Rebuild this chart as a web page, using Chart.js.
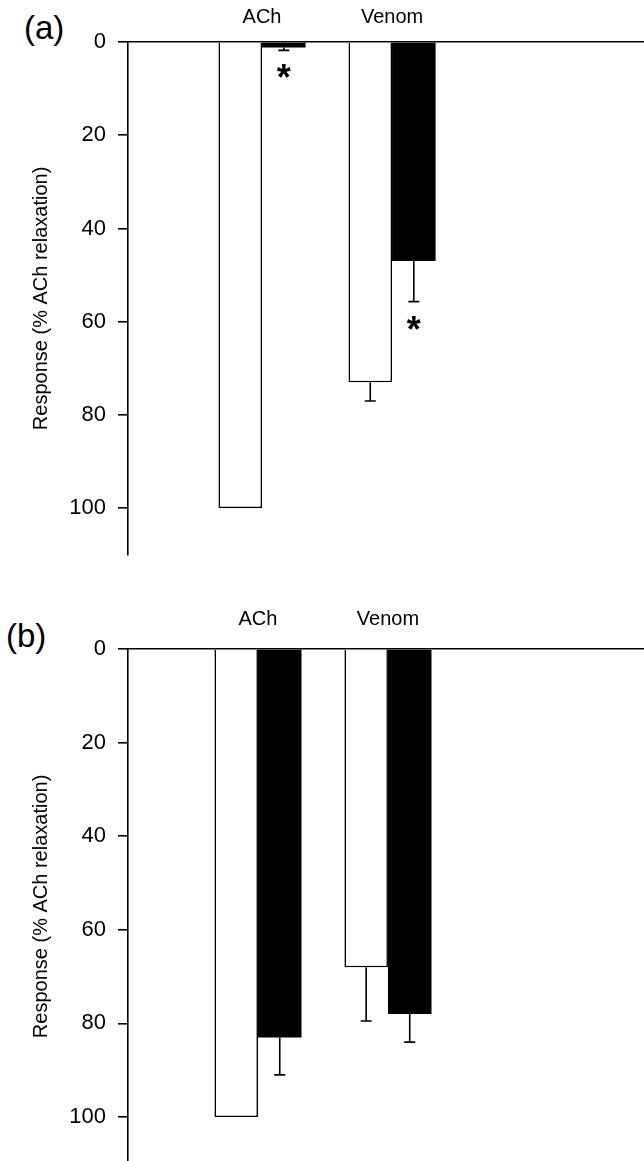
<!DOCTYPE html>
<html>
<head>
<meta charset="utf-8">
<script src="https://cdn.jsdelivr.net/npm/chart.js@4"></script>
<style>
  body { margin: 0; background: #fff; width: 644px; height: 1161px; position: relative; overflow: hidden; }
  canvas { position: absolute; left: 0; }
  .tag { position: absolute; font-family: "Liberation Sans", Arial, sans-serif; font-size: 33px; color: #000; line-height: 1; }
</style>
</head>
<body>
<div class="tag" style="left:24px; top:11px;">(a)</div>
<canvas id="graficoA" width="644" height="580" style="top:0"></canvas>
<div class="tag" style="left:6px; top:619px;">(b)</div>
<canvas id="graficoB" width="644" height="589" style="top:600px"></canvas>
<script>
// categorias e valores (% relaxamento ACh)
const categorias = ["ACh", "Venom"];
const yTicks = [0, 20, 40, 60, 80, 100];

// painel (a)
const controleA = [100, 73];
const controleErroA = [0, 4];
const tratadoA = [1.2, 47];
const tratadoErroA = [0.6, 8.7];
const asteriscoA = [true, true];

// painel (b)
const controleB = [100, 68];
const controleErroB = [0, 11.5];
const tratadoB = [83, 78];
const tratadoErroB = [8, 6];
const asteriscoB = [false, false];

const FONTE = '"Liberation Sans", Arial, sans-serif';

// barras de erro e asteriscos
const errorBars = {
  id: "errorBars",
  afterDatasetsDraw(chart) {
    const ctx = chart.ctx;
    const y = chart.scales.y;
    chart.data.datasets.forEach((ds, di) => {
      const meta = chart.getDatasetMeta(di);
      meta.data.forEach((bar, i) => {
        const v = ds.data[i].y;
        const err = ds.errors[i];
        let fim = y.getPixelForValue(v);
        ctx.save();
        ctx.strokeStyle = "#000";
        ctx.lineWidth = 1.6;
        if (err) {
          fim = y.getPixelForValue(v + err);
          ctx.beginPath();
          ctx.moveTo(bar.x, y.getPixelForValue(v));
          ctx.lineTo(bar.x, fim);
          ctx.moveTo(bar.x - 5.5, fim);
          ctx.lineTo(bar.x + 5.5, fim);
          ctx.stroke();
        }
        if (ds.stars && ds.stars[i]) {
          ctx.fillStyle = "#000";
          ctx.font = "bold 36px " + FONTE;
          ctx.textAlign = "center";
          ctx.textBaseline = "alphabetic";
          const m = ctx.measureText("*");
          const cy = fim + 21;
          ctx.fillText("*", bar.x, cy + (m.actualBoundingBoxAscent - m.actualBoundingBoxDescent) / 2);
        }
        ctx.restore();
      });
    });
  }
};

function criarGrafico(id, controle, controleErro, tratado, tratadoErro, asterisco, cfg) {
  return new Chart(document.getElementById(id), {
    type: "bar",
    data: {
      datasets: [
        {
          data: controle.map((v, i) => ({ x: i + 1, y: v })),
          errors: controleErro,
          backgroundColor: "#fff",
          borderColor: "#000",
          borderWidth: 1.6,
          categoryPercentage: 0.67,
          barPercentage: 1
        },
        {
          data: tratado.map((v, i) => ({ x: i + 1, y: v })),
          errors: tratadoErro,
          stars: asterisco,
          backgroundColor: "#000",
          borderColor: "#000",
          borderWidth: 0,
          categoryPercentage: 0.67,
          barPercentage: 1
        }
      ]
    },
    options: {
      responsive: false,
      animation: false,
      layout: { padding: { left: 0, right: 0, top: 0, bottom: cfg.bottom } },
      plugins: { legend: { display: false }, tooltip: { enabled: false } },
      scales: {
        x: {
          type: "linear",
          position: "top",
          offset: false,
          min: cfg.xmin,
          max: cfg.xmax,
          afterBuildTicks: s => { s.ticks = categorias.map((c, i) => ({ value: i + 1 })); },
          afterFit: s => { s.height = cfg.topo; },
          grid: { display: false, drawTicks: false },
          border: { display: true, color: "#000", width: 1.6 },
          ticks: {
            color: "#000",
            font: { family: FONTE, size: 20 },
            padding: cfg.padX,
            maxRotation: 0,
            callback: v => categorias[v - 1] || ""
          }
        },
        y: {
          type: "linear",
          reverse: true,
          min: 0,
          max: 110,
          afterBuildTicks: s => { s.ticks = yTicks.map(v => ({ value: v })); },
          afterFit: s => { s.width = 128; },
          grid: { drawOnChartArea: false, drawTicks: true, tickLength: 10, color: "#000", lineWidth: 1.6 },
          border: { display: true, color: "#000", width: 1.6 },
          ticks: {
            color: "#000",
            font: { family: FONTE, size: 22 },
            padding: 12
          },
          title: {
            display: true,
            text: "Response (% ACh relaxation)",
            color: "#000",
            font: { family: FONTE, size: 20 },
            padding: { top: 29, bottom: 0 }
          }
        }
      }
    },
    plugins: [errorBars]
  });
}

criarGrafico("graficoA", controleA, controleErroA, tratadoA, tratadoErroA, asteriscoA,
  { xmin: -0.031, xmax: 3.938, topo: 42, bottom: 22, padX: 13 });
criarGrafico("graficoB", controleB, controleErroB, tratadoB, tratadoErroB, asteriscoB,
  { xmin: 0, xmax: 3.97, topo: 49, bottom: 0, padX: 18 });
</script>
</body>
</html>
